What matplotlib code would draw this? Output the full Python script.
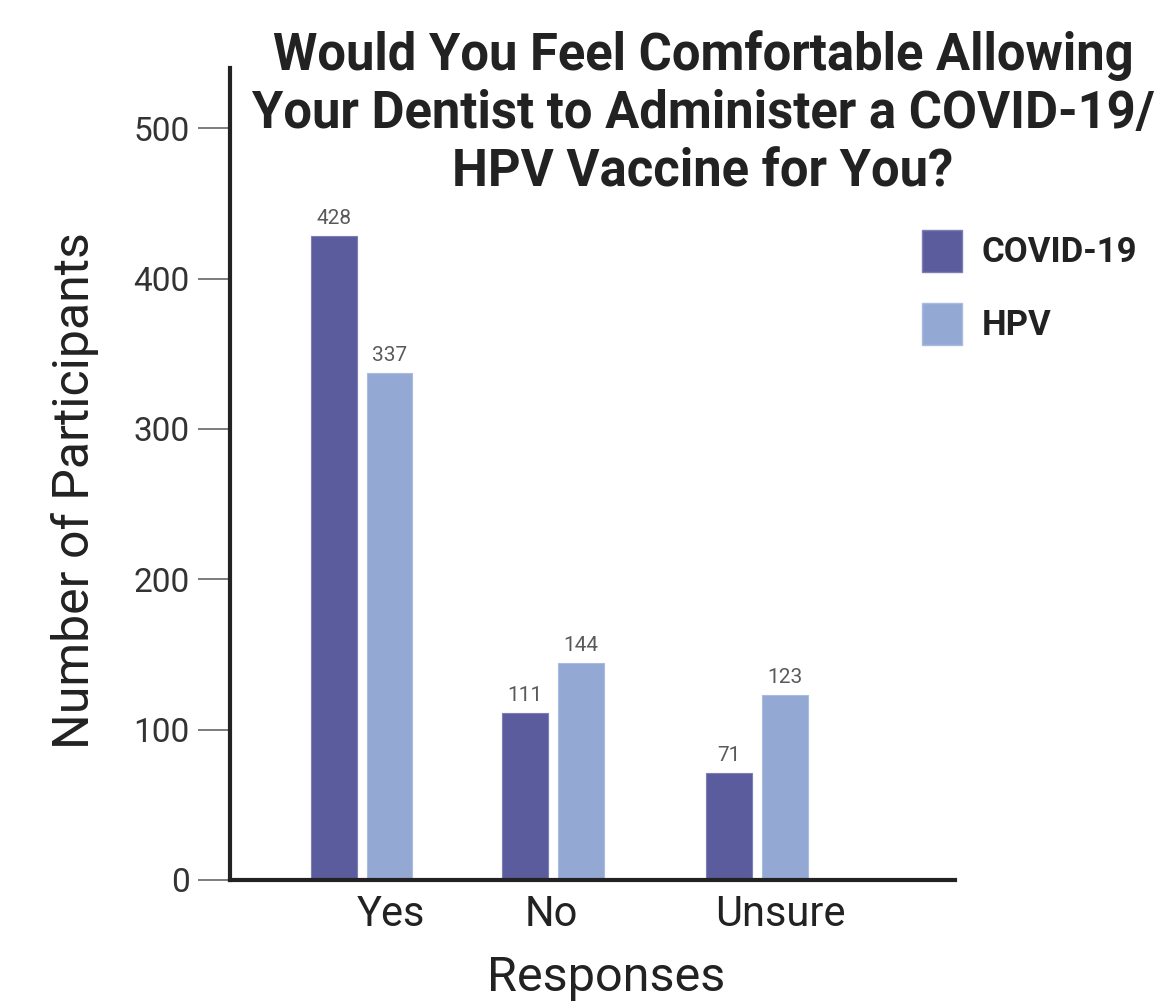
import matplotlib
matplotlib.use("Agg")
import matplotlib.pyplot as plt
from matplotlib.patches import Patch

plt.rcParams['font.family'] = ['Roboto', 'DejaVu Sans']

categories = ["Yes", "No", "Unsure"]
series_names = ["COVID-19", "HPV"]
covid = [428, 111, 71]
hpv = [337, 144, 123]
yticks = [0, 100, 200, 300, 400, 500]

group_pos = [0.0, 1.0, 2.065]
label_offset = [0.154, -0.01, 0.12]
c_covid = "#5b5c9d"
c_hpv = "#93a9d4"

W, H = 1169, 1007
fig = plt.figure(figsize=(W / 100, H / 100), dpi=100)
ax = fig.add_axes([230 / W, 1 - 880 / H, (955 - 230) / W, (880 - 68) / H])

bw = 0.24
off = 0.146
xc = [p - off for p in group_pos]
xh = [p + off for p in group_pos]
b1 = ax.bar(xc, covid, width=bw, color=c_covid, edgecolor="#7d7eb5", linewidth=0.8)
b2 = ax.bar(xh, hpv, width=bw, color=c_hpv, edgecolor="#a9bce0", linewidth=0.8)
for bars, vals in ((b1, covid), (b2, hpv)):
    for rect, v in zip(bars, vals):
        ax.annotate(str(v), (rect.get_x() + rect.get_width() / 2, v),
                    xytext=(0, 6), textcoords="offset points",
                    ha="center", va="bottom", fontsize=15, color="#5a5a5a")

ax.set_xlim(-0.687, 3.099)
ax.set_ylim(0, 540)
ax.set_yticks(yticks)
ax.set_yticklabels([str(t) for t in yticks], fontsize=24, color="#333333")
ax.tick_params(axis="y", length=23, width=1.2, color="#666666", pad=6)
ax.set_xticks([p + o for p, o in zip(group_pos, label_offset)])
ax.set_xticklabels(categories, fontsize=30, color="#222222")
ax.tick_params(axis="x", length=0, pad=10)

for s in ("top", "right"):
    ax.spines[s].set_visible(False)
for s in ("left", "bottom"):
    ax.spines[s].set_linewidth(3)
    ax.spines[s].set_color("#222222")

ax.set_xlabel("Responses", fontsize=35, color="#222222")
ax.xaxis.set_label_coords(0.519, -0.092)
ax.set_ylabel("Number of Participants", fontsize=36, color="#222222")
ax.yaxis.set_label_coords(-0.18, 0.48)

fig.text(703 / W, 1 - 30 / H,
         "Would You Feel Comfortable Allowing\nYour Dentist to Administer a COVID-19/\nHPV Vaccine for You?",
         ha="center", va="top", fontsize=36.5, fontweight="bold", color="#222222",
         linespacing=1.21)

handles = [Patch(facecolor=c_covid, edgecolor="#7d7eb5"), Patch(facecolor=c_hpv, edgecolor="#a9bce0")]
leg = fig.legend(handles, series_names, loc="upper left",
                 bbox_to_anchor=(922 / W, 1 - 230 / H), frameon=False,
                 prop={"size": 25, "weight": "bold"}, handlelength=1.14,
                 handleheight=1.47, labelspacing=0.9, handletextpad=0.57,
                 borderpad=0, borderaxespad=0)
for t in leg.get_texts():
    t.set_color("#222222")

fig.savefig("out.png", dpi=100)
